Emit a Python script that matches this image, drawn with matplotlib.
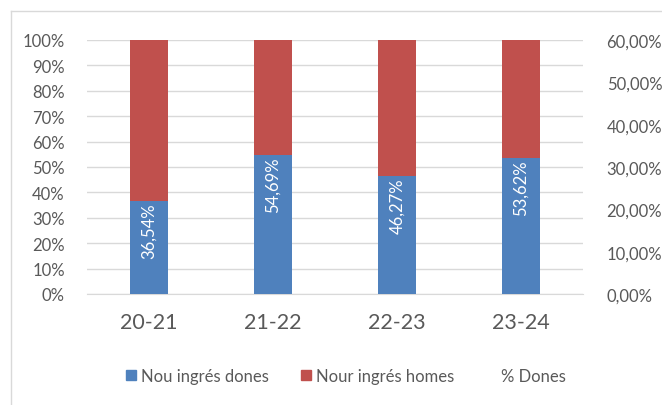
import numpy as np
import matplotlib.pyplot as plt
from matplotlib.ticker import FuncFormatter, MultipleLocator
from matplotlib.lines import Line2D

plt.rcParams['font.family'] = ['Lato', 'DejaVu Sans']

cursos = ['20-21', '21-22', '22-23', '23-24']
dones = [36.54, 54.69, 46.27, 53.62]
homes = [100 - d for d in dones]
pct_dones = [36.54, 54.69, 46.27, 53.62]

blau = '#4F81BD'
vermell = '#C0504D'
gris = '#595959'

fig = plt.figure(figsize=(6.62, 4.06), dpi=100)
ax = fig.add_axes([87/662, 1 - 295/406, 496/662, 254/406])
ax2 = ax.twinx()

x = np.arange(len(cursos))
w = 0.31
ax.bar(x, np.array(dones) / 100, w, color=blau, label='Nou ingrés dones', zorder=3)
ax.bar(x, np.array(homes) / 100, w, bottom=np.array(dones) / 100, color=vermell,
       label='Nour ingrés homes', zorder=3)

for xi, d in zip(x, dones):
    ax.text(xi, d / 100 - 0.005, f'{d:.2f}%'.replace('.', ','), rotation=90,
            ha='center', va='top', color='white', fontsize=12, zorder=4)

ax2.plot(x, np.array(pct_dones) / 100, linestyle='None', label='% Dones')

ax.set_xlim(-0.5, 3.5)
ax.set_ylim(0, 1)
ax2.set_ylim(0, 0.6)
ax.yaxis.set_major_locator(MultipleLocator(0.1))
ax2.yaxis.set_major_locator(MultipleLocator(0.1))
ax.yaxis.set_major_formatter(FuncFormatter(lambda v, p: f'{v*100:.0f}%'))
ax2.yaxis.set_major_formatter(FuncFormatter(lambda v, p: f'{v*100:.2f}%'.replace('.', ',')))

ax.set_xticks(x)
ax.set_xticklabels(cursos, fontsize=15.5, color=gris)
ax.tick_params(axis='x', length=0, pad=13)
ax.tick_params(axis='y', length=0, pad=16, labelsize=12, labelcolor=gris)
ax2.tick_params(axis='y', length=0, pad=17, labelsize=12, labelcolor=gris)

ax.grid(axis='y', color='#D9D9D9', linewidth=1, zorder=0)
for a in (ax, ax2):
    for s in a.spines.values():
        s.set_visible(False)
ax.spines['bottom'].set_visible(True)
ax.spines['bottom'].set_color('#D9D9D9')

handles = [plt.Rectangle((0, 0), 1, 1, color=blau), plt.Rectangle((0, 0), 1, 1, color=vermell),
           Line2D([], [], linestyle='None')]
fig.legend(handles, ['Nou ingrés dones', 'Nour ingrés homes', '% Dones'],
           loc='center', bbox_to_anchor=(346/662, 1 - 377/406), ncol=3, frameon=False,
           fontsize=12, labelcolor=gris, handlelength=0.6, handleheight=0.6,
           handletextpad=0.3, columnspacing=1.9)

# marc del gràfic
fig.add_artist(Line2D([11/662, 11/662], [0, 1 - 12/406], color='#D9D9D9', lw=1))
fig.add_artist(Line2D([11/662, 1], [1 - 12/406, 1 - 12/406], color='#D9D9D9', lw=1))

fig.savefig('out.png', dpi=100)
